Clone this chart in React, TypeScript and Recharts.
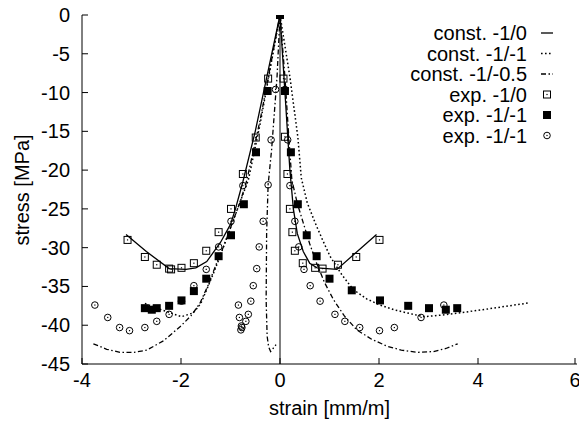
import React from 'react';
import {
  ComposedChart,
  Line,
  Scatter,
  XAxis,
  YAxis,
  ReferenceLine,
  Legend
} from 'recharts';

const FONT = '"Liberation Sans", Arial, Helvetica, sans-serif';

const xTicks = [-4, -2, 0, 2, 4, 6];
const yTicks = [0, -5, -10, -15, -20, -25, -30, -35, -40, -45];

// constitutive model curves, [strain, stress]
const constA: number[][] = [
  [-3.11, -28.3], [-2.7, -30.5], [-2.24, -32.7], [-1.9, -32.8], [-1.7, -32.6], [-1.48, -31.8],
  [-1.2, -29.3], [-1.0, -27.0], [-0.9, -25.0], [-0.75, -21.5], [-0.5, -15.0], [-0.25, -7.5], [0, 0],
  [0.1, -10.0], [0.2, -20.0], [0.27, -25.0], [0.35, -28.2], [0.47, -30.5], [0.6, -32.0],
  [0.75, -32.6], [1.15, -32.8], [1.95, -28.3]
];

const constB: number[][] = [
  [-2.73, -37.2], [-2.4, -38.0], [-1.99, -38.9], [-1.75, -38.4], [-1.6, -37.2], [-1.48, -35.4],
  [-1.35, -33.4], [-1.21, -31.1], [-1.08, -28.8], [-0.94, -26.4], [-0.8, -24.0], [-0.64, -21.3],
  [-0.4, -14.0], [-0.2, -7.0], [0, 0], [0.2, -8.0], [0.36, -15.7], [0.43, -21.0], [0.55, -24.2],
  [0.71, -26.8], [0.86, -29.0], [1.01, -31.1], [1.25, -33.5], [1.48, -35.4], [1.75, -36.6],
  [2.02, -37.4], [2.3, -38.0], [2.56, -38.4], [2.9, -38.9], [3.25, -38.7], [3.64, -38.4],
  [4.31, -37.8], [5.05, -37.1]
];

const constC: number[][] = [
  [-3.77, -42.4], [-3.5, -43.1], [-3.23, -43.5], [-2.95, -43.5], [-2.69, -43.2], [-2.35, -42.0],
  [-2.02, -40.2], [-1.8, -38.8], [-1.62, -37.2], [-1.45, -34.8], [-1.28, -32.0], [-1.1, -29.2],
  [-0.94, -26.4], [-0.8, -24.0], [-0.67, -21.3], [-0.4, -13.5], [-0.2, -6.8], [0, 0],
  [0.1, -8.0], [0.18, -16.0], [0.24, -21.3], [0.35, -24.3], [0.47, -26.8], [0.6, -29.5],
  [0.74, -32.0], [0.9, -34.5], [1.08, -36.7], [1.3, -38.8], [1.55, -40.6], [1.85, -41.8],
  [2.16, -42.7], [2.45, -43.2], [2.76, -43.5], [3.1, -43.4], [3.35, -43.0], [3.59, -42.4]
];

const constCInner: number[][] = [
  [0, 0], [-0.06, -8.0], [-0.17, -17.4], [-0.24, -21.9], [-0.27, -28.1], [-0.28, -36.7],
  [-0.26, -41.4], [-0.23, -42.8], [-0.19, -43.4], [-0.14, -43.0], [-0.08, -42.5]
];

// experiments
const expA: number[][] = [
  [0, 0], [-0.24, -8.2], [-0.49, -15.8], [-0.75, -20.5], [-0.99, -25.0], [-1.24, -28.0],
  [-1.49, -30.4], [-1.74, -32.0], [-1.99, -32.6], [-2.2, -32.8], [-2.24, -32.7], [-2.49, -32.2],
  [-2.73, -31.2], [-3.08, -29.0],
  [0.07, -8.2], [0.1, -15.7], [0.15, -20.5], [0.2, -25.0], [0.25, -28.0], [0.3, -30.4],
  [0.46, -32.0], [0.71, -32.6], [0.86, -32.7], [1.17, -32.2], [1.54, -31.2], [2.01, -29.0]
];

const expB: number[][] = [
  [0, 0], [-0.25, -9.8], [-0.485, -17.7], [-0.73, -24.4], [-0.99, -28.4], [-1.24, -31.1],
  [-1.49, -34.0], [-1.74, -35.6], [-1.99, -36.8], [-2.24, -37.5], [-2.49, -37.8], [-2.59, -38.0],
  [-2.73, -37.8],
  [0.1, -9.8], [0.22, -17.7], [0.36, -24.4], [0.54, -28.4], [0.74, -31.1], [1.0, -34.0],
  [1.45, -35.5], [2.02, -36.8], [2.59, -37.5], [3.01, -37.8], [3.35, -38.0], [3.58, -37.8]
];

const expC: number[][] = [
  [-0.09, -9.6], [-0.18, -16.1], [-0.24, -21.9], [-0.34, -26.6], [-0.42, -29.9], [-0.47, -32.7],
  [-0.54, -34.9], [-0.59, -36.9], [-0.64, -38.6], [-0.69, -39.5], [-0.77, -40.3], [-0.79, -40.6],
  [-0.78, -40.1], [-0.82, -39.0], [-0.84, -37.4],
  [-0.75, -22.0], [-0.99, -26.6], [-1.24, -29.9], [-1.49, -32.8], [-1.74, -34.9], [-1.99, -36.9],
  [-2.24, -38.6], [-2.49, -39.5], [-2.73, -40.3], [-3.04, -40.7], [-3.24, -40.3], [-3.48, -39.0],
  [-3.74, -37.4],
  [0.1, -9.6], [0.155, -16.1], [0.2, -22.0], [0.3, -26.6], [0.38, -29.9], [0.485, -32.8],
  [0.61, -34.9], [0.81, -36.9], [1.11, -38.6], [1.31, -39.5], [1.61, -40.3], [2.01, -40.7],
  [2.31, -40.3], [2.85, -39.0], [3.31, -37.4]
];

const toPts = (a: number[][]) => a.map(([x, y]) => ({ x, y }));

const DOTTED = '1.6 2.4';
const DASHDOT = '5 2.5 1.5 2.5';

const OpenSquare = ({ cx, cy }: any) => (
  <g>
    <rect x={cx - 3.5} y={cy - 3.5} width={7} height={7} fill="none" stroke="#000" strokeWidth={1} />
    <rect x={cx - 0.6} y={cy - 0.6} width={1.2} height={1.2} fill="#000" />
  </g>
);

const FilledSquare = ({ cx, cy }: any) => (
  <rect x={cx - 4} y={cy - 4} width={8} height={8} fill="#000" />
);

const OpenCircle = ({ cx, cy }: any) => (
  <g>
    <circle cx={cx} cy={cy} r={3.3} fill="none" stroke="#000" strokeWidth={1} />
    <rect x={cx - 0.6} y={cy - 0.6} width={1.2} height={1.2} fill="#000" />
  </g>
);

const legendRows = [
  { name: 'const. -1/0', kind: 'line', dash: undefined },
  { name: 'const. -1/-1', kind: 'line', dash: DOTTED },
  { name: 'const. -1/-0.5', kind: 'line', dash: DASHDOT },
  { name: 'exp. -1/0', kind: 'openSquare' },
  { name: 'exp. -1/-1', kind: 'filledSquare' },
  { name: 'exp. -1/-1', kind: 'openCircle' }
];

const LegendBox = () => (
  <svg width={579} height={160} style={{ display: 'block' }}>
    {legendRows.map((r, i) => {
      const y = 33 + i * 20.5;
      return (
        <g key={i}>
          <text x={527} y={y} textAnchor="end" dominantBaseline="central" fontSize={20} fontFamily={FONT} fill="#000">
            {r.name}
          </text>
          {r.kind === 'line' && (
            <line x1={541} x2={553} y1={y} y2={y} stroke="#000" strokeWidth={1.3} strokeDasharray={r.dash} />
          )}
          {r.kind === 'openSquare' && <OpenSquare cx={547} cy={y} />}
          {r.kind === 'filledSquare' && <FilledSquare cx={547} cy={y} />}
          {r.kind === 'openCircle' && <OpenCircle cx={547} cy={y} />}
        </g>
      );
    })}
  </svg>
);

const BottomTick = ({ x, y, payload }: any) => (
  <g>
    <line x1={x} x2={x} y1={y} y2={y - 6} stroke="#000" />
    <text x={x} y={y + 23} textAnchor="middle" fontSize={20} fontFamily={FONT} fill="#000">
      {payload.value}
    </text>
  </g>
);

const TopTick = ({ x, y }: any) => <line x1={x} x2={x} y1={y} y2={y + 6} stroke="#000" />;

const LeftTick = ({ x, y, payload }: any) => (
  <g>
    <line x1={x} x2={x + 6} y1={y} y2={y} stroke="#000" />
    <text x={x - 12} y={y} textAnchor="end" dominantBaseline="central" fontSize={20} fontFamily={FONT} fill="#000">
      {payload.value}
    </text>
  </g>
);

const RightTick = ({ x, y }: any) => <line x1={x} x2={x - 6} y1={y} y2={y} stroke="#000" />;

const App: React.FC = () => (
  <div style={{ position: 'absolute', left: 0, top: 0, width: 579, height: 424, background: '#fff' }}>
    <ComposedChart width={579} height={424} margin={{ top: 15, right: 2, left: 0, bottom: 0 }} style={{ fontFamily: FONT }}>
      <XAxis
        dataKey="x"
        type="number"
        domain={[-4, 6]}
        ticks={xTicks}
        height={60}
        tickSize={0}
        tickMargin={0}
        tickLine={false}
        axisLine={{ stroke: '#000' }}
        tick={<BottomTick />}
        allowDataOverflow
        label={{
          content: () => (
            <text x={329.5} y={415} textAnchor="middle" fontSize={20} fontFamily={FONT} fill="#000">
              strain [mm/m]
            </text>
          )
        }}
      />
      <XAxis
        xAxisId="top"
        orientation="top"
        type="number"
        domain={[-4, 6]}
        ticks={xTicks}
        height={0}
        tickSize={0}
        tickMargin={0}
        tickLine={false}
        axisLine={{ stroke: '#000' }}
        tick={<TopTick />}
      />
      <YAxis
        dataKey="y"
        type="number"
        domain={[-45, 0]}
        ticks={yTicks}
        width={82}
        tickSize={0}
        tickMargin={0}
        tickLine={false}
        axisLine={{ stroke: '#000' }}
        tick={<LeftTick />}
        allowDataOverflow
        label={{
          content: () => (
            <text
              x={22}
              y={190}
              transform="rotate(-90, 22, 190)"
              textAnchor="middle"
              dominantBaseline="central"
              fontSize={20}
              fontFamily={FONT}
              fill="#000"
            >
              stress [MPa]
            </text>
          )
        }}
      />
      <YAxis
        yAxisId="right"
        orientation="right"
        type="number"
        domain={[-45, 0]}
        ticks={yTicks}
        width={0}
        tickSize={0}
        tickMargin={0}
        tickLine={false}
        axisLine={{ stroke: '#000' }}
        tick={<RightTick />}
      />
      <ReferenceLine x={0} stroke="#000" strokeWidth={1} />
      <Line data={toPts(constA)} dataKey="y" type="linear" stroke="#000" strokeWidth={1.3} dot={false} isAnimationActive={false} name="const. -1/0" />
      <Line data={toPts(constB)} dataKey="y" type="linear" stroke="#000" strokeWidth={1.5} strokeDasharray={DOTTED} dot={false} isAnimationActive={false} name="const. -1/-1" />
      <Line data={toPts(constC)} dataKey="y" type="linear" stroke="#000" strokeWidth={1.3} strokeDasharray={DASHDOT} dot={false} isAnimationActive={false} name="const. -1/-0.5" />
      <Line data={toPts(constCInner)} dataKey="y" type="linear" stroke="#000" strokeWidth={1.3} strokeDasharray={DASHDOT} dot={false} isAnimationActive={false} legendType="none" />
      <Scatter data={toPts(expA)} dataKey="y" shape={<OpenSquare />} isAnimationActive={false} name="exp. -1/0" />
      <Scatter data={toPts(expB)} dataKey="y" shape={<FilledSquare />} isAnimationActive={false} name="exp. -1/-1" />
      <Scatter data={toPts(expC)} dataKey="y" shape={<OpenCircle />} isAnimationActive={false} name="exp. -1/-1 " />
      <Legend
        layout="vertical"
        align="center"
        verticalAlign="middle"
        content={<LegendBox />}
        wrapperStyle={{ position: 'absolute', left: 0, top: 0, width: 579, height: 160, pointerEvents: 'none' }}
      />
    </ComposedChart>
  </div>
);

export default App;
